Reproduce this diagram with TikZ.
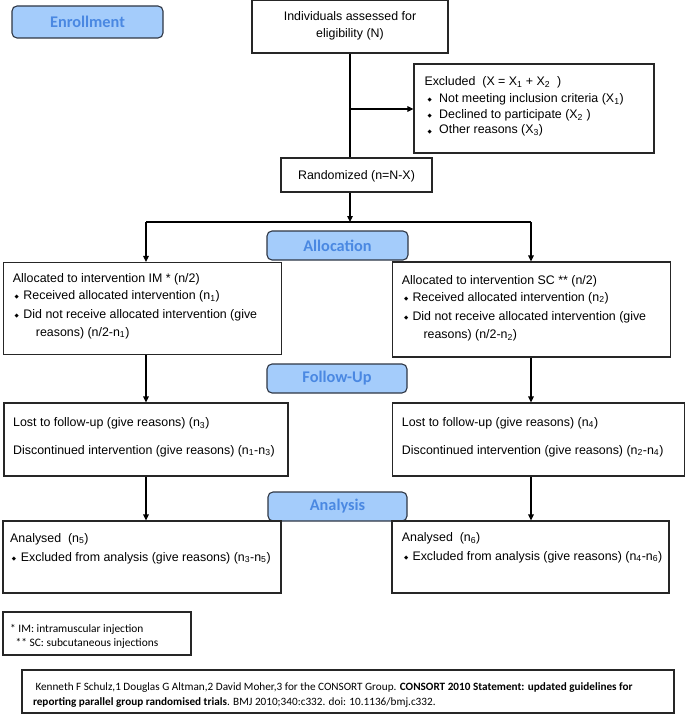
\documentclass[tikz,border=0pt]{standalone}
\usepackage{fontspec}
\setmainfont{Liberation Sans}
\newfontfamily\calfont{Carlito}
\newfontfamily\dvsfont{DejaVu Sans}
\usetikzlibrary{arrows.meta}
\definecolor{hdrfill}{HTML}{A4CCFB}
\definecolor{hdrtext}{HTML}{4A88E2}
\definecolor{hdrdraw}{HTML}{2E3644}
\definecolor{boxdraw}{HTML}{262626}
\newcommand{\dbul}[1]{\makebox[#1][l]{\raisebox{0.9pt}{\dvsfont\fontsize{5.5}{5.5}\selectfont ◆}}}
\begin{document}
\begin{tikzpicture}[x=1pt,y=-1pt,
  hdr/.style={draw=hdrdraw, fill=hdrfill, line width=1.1pt, rounded corners=5pt,
    inner sep=0pt, text=hdrtext, font=\calfont\bfseries\fontsize{16.3}{18}\selectfont},
  box/.style={draw=boxdraw, line width=1.1pt, inner sep=0pt},
  tx/.style={inner sep=0pt, anchor=base west, font=\fontsize{12.4}{15}\selectfont},
  txc/.style={inner sep=0pt, anchor=base, font=\fontsize{12.4}{15}\selectfont},
  ft/.style={inner sep=0pt, anchor=base west, font=\calfont\fontsize{11.4}{13}\selectfont},
  ct/.style={inner sep=0pt, anchor=base west, font=\calfont\fontsize{11.2}{13}\selectfont},
  conn/.style={draw=black, line width=1.1pt},
  arr/.style={conn, -{Triangle[length=6pt,width=5.5pt]}}]
\useasboundingbox (0,0) rectangle (685,714);

% header boxes
\node[hdr, minimum width=151pt, minimum height=32pt] (enroll) at (87.5,22) {Enrollment};
\node[hdr, minimum width=141pt, minimum height=29pt] (hAlloc) at (337.5,245.5) {Allocation};
\node[hdr, minimum width=140pt, minimum height=29pt] (hFU) at (337,378.5) {Follow-Up};
\node[hdr, minimum width=139pt, minimum height=29pt] (hAn) at (337.5,506.5) {Analysis};

% boxes
\node[box, minimum width=196pt, minimum height=52.4pt] (indiv) at (350,26.8) {};
\node[box, minimum width=240pt, minimum height=89pt] (excl) at (534,108.5) {};
\node[box, minimum width=151pt, minimum height=34pt] (rand) at (356.5,175) {};
\node[box, minimum width=278pt, minimum height=92pt] (allocL) at (142.3,308.5) {};
\node[box, minimum width=278pt, minimum height=95pt] (allocR) at (531.5,309.5) {};
\node[box, minimum width=284pt, minimum height=73pt] (fuL) at (146,439.5) {};
\node[box, minimum width=292pt, minimum height=73pt] (fuR) at (538.4,439.5) {};
\node[box, minimum width=278pt, minimum height=72pt] (anL) at (142,557) {};
\node[box, minimum width=277pt, minimum height=72pt] (anR) at (530.5,557) {};
\node[box, minimum width=188pt, minimum height=43pt] (foot) at (97,633.5) {};
\node[box, minimum width=652pt, minimum height=43pt] (cite) at (348,691.5) {};

% texts
\node[txc] (t1a) at (350,20.7) {Individuals assessed for};
\node[txc] (t1b) at (350,37.3) {eligibility (N)};

\node[tx] (e1) at (424.3,85.7) {Excluded\ \ (X = X\textsubscript{1} + X\textsubscript{2}\ \ )};
\node[tx] (e2) at (427.3,102.7) {\dbul{11.7pt}Not meeting inclusion criteria (X\textsubscript{1})};
\node[tx] (e3) at (427.3,118.3) {\dbul{11.7pt}Declined to participate (X\textsubscript{2} )};
\node[tx] (e4) at (427.3,134) {\dbul{11.7pt}Other reasons (X\textsubscript{3})};

\node[txc] (r1) at (356.5,179.2) {Randomized (n=N-X)};

\node[tx] (aL1) at (12.7,282.7) {Allocated to intervention IM * (n/2)};
\node[tx] (aL2) at (14.5,299.3) {\dbul{8.8pt}Received allocated intervention (n\textsubscript{1})};
\node[tx] (aL3) at (14.5,318) {\dbul{8.8pt}Did not receive allocated intervention (give};
\node[tx] (aL4) at (35.7,336) {reasons) (n/2-n\textsubscript{1})};

\node[tx] (aR1) at (401.7,284.7) {Allocated to intervention SC ** (n/2)};
\node[tx] (aR2) at (404,301) {\dbul{8.3pt}Received allocated intervention (n\textsubscript{2})};
\node[tx] (aR3) at (404,320.3) {\dbul{8.3pt}Did not receive allocated intervention (give};
\node[tx] (aR4) at (423.3,338.7) {reasons) (n/2-n\textsubscript{2})};

\node[tx] (fL1) at (13,426.5) {Lost to follow-up (give reasons) (n\textsubscript{3})};
\node[tx] (fL2) at (13,454) {Discontinued intervention (give reasons) (n\textsubscript{1}-n\textsubscript{3})};
\node[tx] (fR1) at (401.7,426) {Lost to follow-up (give reasons) (n\textsubscript{4})};
\node[tx] (fR2) at (401.7,454) {Discontinued intervention (give reasons) (n\textsubscript{2}-n\textsubscript{4})};

\node[tx] (nL1) at (10,542) {Analysed\ \ (n\textsubscript{5})};
\node[tx] (nL2) at (11.7,561) {\dbul{9pt}Excluded from analysis (give reasons) (n\textsubscript{3}-n\textsubscript{5})};
\node[tx] (nR1) at (401.7,541.3) {Analysed\ \ (n\textsubscript{6})};
\node[tx] (nR2) at (404,560) {\dbul{8.3pt}Excluded from analysis (give reasons) (n\textsubscript{4}-n\textsubscript{6})};

\begin{scope}
\clip (5,614) rectangle (189,647.4);
\node[ft] (fn1) at (10,632.6) {* IM: intramuscular injection};
\node[ft] (fn2) at (15.5,646.6) {** SC: subcutaneous injections};
\end{scope}

\begin{scope}
\clip (24,672) rectangle (672,706.4);
\node[ct] (c1) at (32.8,690.3) {\ Kenneth F Schulz,1 Douglas G Altman,2 David Moher,3 for the CONSORT Group. \textbf{CONSORT 2010 Statement: updated guidelines for}};
\node[ct] (c2) at (32.8,705.6) {\textbf{reporting parallel group randomised trials}. BMJ 2010;340:c332. doi: 10.1136/bmj.c332.};
\end{scope}

% connectors
\coordinate (jx) at (350,109);
\coordinate (split) at (350,222);
\coordinate (sL) at (146,222);
\coordinate (sR) at (531,222);
\draw[conn] (indiv.south) -- (indiv.south |- rand.north);
\draw[arr] (jx) -- (jx -| excl.west);
\draw[arr] (rand.south -| indiv.south) -- (split);
\draw[conn] (sL) -- (sR);
\draw[arr] (sL) -- (sL |- allocL.north);
\draw[arr] (sR) -- (sR |- allocR.north);
\draw[arr] (sL |- allocL.south) -- (sL |- fuL.north);
\draw[arr] (sR |- allocR.south) -- (sR |- fuR.north);
\draw[arr] (sL |- fuL.south) -- (sL |- anL.north);
\draw[arr] (sR |- fuR.south) -- (sR |- anR.north);
\end{tikzpicture}
\end{document}
